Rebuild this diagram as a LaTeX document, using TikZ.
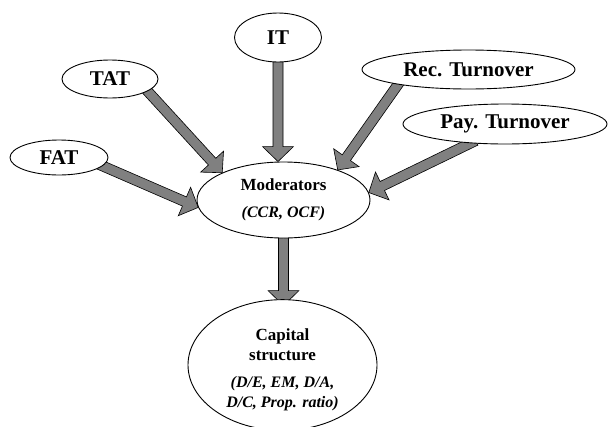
\documentclass[tikz,border=0pt]{standalone}
\usepackage{fontspec}
\setmainfont{Liberation Serif}
\usetikzlibrary{shapes.geometric,calc}
\tikzset{
  oval/.style={ellipse, draw=black, line width=0.9pt, fill=white, inner sep=0pt},
  outerlabel/.style={oval, font=\fontsize{21}{24}\selectfont\bfseries},
  fatarrow/.style={draw=black, line width=0.6pt, fill=black!50, line join=miter},
}
\newcommand\fatarr[2]{%
  \path (#1) coordinate (faS0) (#2) coordinate (faT);
  \path ($(faS0)!-6pt!(faT)$) coordinate (faS) ($(faT)!15pt!(faS0)$) coordinate (faH);
  \draw[fatarrow] ($(faS)!5pt!90:(faT)$) -- ($(faH)!5pt!90:(faT)$) -- ($(faH)!15.5pt!90:(faT)$)
     -- (faT) -- ($(faH)!15.5pt!-90:(faT)$) -- ($(faH)!5pt!-90:(faT)$) -- ($(faS)!5pt!-90:(faT)$) -- cycle;
}
\newcommand\itl{\fontsize{16}{16.5}\selectfont\bfseries\itshape}
\begin{document}
\begin{tikzpicture}[x=1pt,y=-1pt]
\useasboundingbox[fill=white] (0,0) rectangle (610,426);
% node geometry (drawn later over arrows)
\path
  node[outerlabel, minimum width=87pt, minimum height=49pt, draw=none, fill=none] (it) at (278,37.5) {}
  node[outerlabel, minimum width=96pt, minimum height=38pt, draw=none, fill=none] (tat) at (110,79) {}
  node[outerlabel, minimum width=98pt, minimum height=35pt, draw=none, fill=none] (fat) at (59,157.5) {}
  node[outerlabel, minimum width=213pt, minimum height=39pt, draw=none, fill=none] (rec) at (468.5,69.5) {}
  node[outerlabel, minimum width=204pt, minimum height=40pt, draw=none, fill=none] (pay) at (505,124) {}
  node[oval, minimum width=173pt, minimum height=76pt, draw=none, fill=none] (mod) at (283.5,200) {}
  node[oval, minimum width=189pt, minimum height=118pt, draw=none, fill=none] (cap) at (282.5,365) {};
% arrows
\fatarr{tat.-18}{mod.156}
\fatarr{fat.-11}{mod.185}
\fatarr{it.south}{it.south |- mod.north}
\fatarr{rec.-168}{mod.29}
\fatarr{pay.-151}{mod.5}
\fatarr{mod.south}{mod.south |- cap.north}
% ellipses with text
\node[outerlabel, minimum width=87pt, minimum height=49pt] at (it) {IT};
\node[outerlabel, minimum width=96pt, minimum height=38pt] at (tat) {TAT};
\node[outerlabel, minimum width=98pt, minimum height=35pt] at (fat) {FAT};
\node[outerlabel, minimum width=213pt, minimum height=39pt] at (rec) {Rec. Turnover};
\node[outerlabel, minimum width=204pt, minimum height=40pt] at (pay) {Pay. Turnover};
\node[oval, minimum width=173pt, minimum height=76pt, align=center,
      font=\fontsize{17}{20}\selectfont\bfseries] at (mod)
  {Moderators\\[7pt]\itl (CCR, OCF)};
\node[oval, minimum width=189pt, minimum height=118pt, align=center,
      font=\fontsize{17}{20}\selectfont\bfseries] at (cap)
  {\rule{0pt}{22pt}Capital\\ structure\\[7pt]\itl (D/E, EM, D/A,\\ \itl D/C, Prop. ratio)};
\end{tikzpicture}
\end{document}
